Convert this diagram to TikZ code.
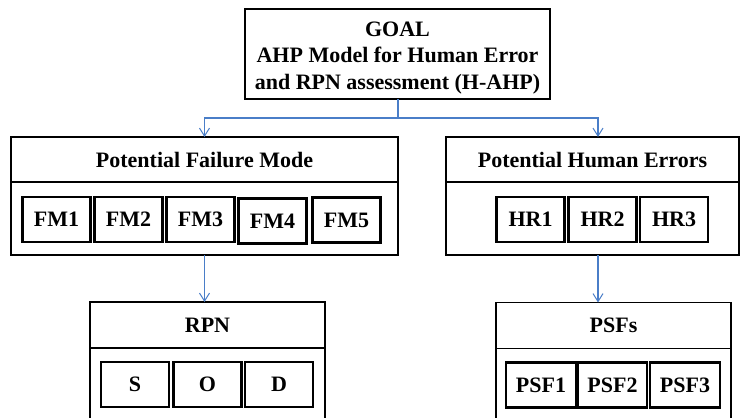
\documentclass[tikz,border=0pt]{standalone}
\usepackage{fontspec}
\setmainfont{Liberation Serif}
\usetikzlibrary{arrows.meta}
\definecolor{connblue}{RGB}{74,126,200}
\begin{document}
\begin{tikzpicture}[x=1pt,y=-1pt,
  every node/.style={font=\fontsize{22}{26.5}\selectfont\bfseries, inner sep=0pt, outer sep=0pt},
  goalbox/.style={draw=black, line width=2.4pt, minimum width=305pt, minimum height=90pt, align=center},
  hdrbox/.style={draw=black, line width=1.8pt, minimum height=45pt},
  bodybox/.style={draw=black, line width=1.8pt, anchor=north},
  itembox/.style={draw=black, line width=2.4pt, minimum width=68pt, minimum height=45pt},
  conn/.style={draw=connblue, line width=1.3pt},
  arr/.style={conn, -{Straight Barb[length=8pt,width=10pt,line width=1pt]}}
]
\useasboundingbox (0,0) rectangle (740,418);
\clip (0,0) rectangle (740,418);
\fill[white] (0,0) rectangle (740,418);

% goal
\node[goalbox] (goal) at (397.5,54) {\rule{0pt}{22pt}GOAL\\AHP Model for Human Error\\and RPN assessment (H-AHP)};

% potential failure mode
\node[hdrbox, minimum width=387pt] (pfm) at (204.5,159.5) {Potential Failure Mode};
\node[bodybox, minimum width=387pt, minimum height=73pt] (pfmb) at (pfm.south) {};
\node[itembox] (fm1) at (56.5,219.5) {FM1};
\node[itembox] (fm2) at (128.5,219.5) {FM2};
\node[itembox] (fm3) at (200.5,219.5) {FM3};
\node[itembox] (fm4) at (272.5,221) {FM4};
\node[itembox] (fm5) at (346.5,220) {FM5};

% potential human errors
\node[hdrbox, minimum width=293pt] (phe) at (592.5,159.5) {Potential Human Errors};
\node[bodybox, minimum width=293pt, minimum height=73pt] (pheb) at (phe.south) {};
\node[itembox] (hr1) at (530.5,219.5) {HR1};
\node[itembox] (hr2) at (602.5,219.5) {HR2};
\node[itembox] (hr3) at (674,219.5) {HR3};

% RPN
\node[hdrbox, minimum width=235pt, minimum height=46pt] (rpn) at (207.5,325) {RPN};
\node[bodybox, minimum width=235pt, minimum height=100pt] (rpnb) at (rpn.south) {};
\node[itembox] (s) at (135,384.5) {S};
\node[itembox] (o) at (207.5,384.5) {O};
\node[itembox] (d) at (279,384.5) {D};

% PSFs
\node[hdrbox, minimum width=235pt, minimum height=46pt] (psf) at (613.5,325.5) {PSFs};
\node[bodybox, minimum width=235pt, minimum height=100pt] (psfb) at (psf.south) {};
\node[itembox, minimum width=70pt] (psf1) at (541,385) {PSF1};
\node[itembox, minimum width=69pt] (psf2) at (612.5,385) {PSF2};
\node[itembox, minimum width=70pt] (psf3) at (685,385) {PSF3};

% connectors
\draw[conn] ([xshift=0.5pt]goal.south) -- ++(0,19) coordinate (j);
\coordinate (phein) at ([xshift=5.5pt]phe.north);
\draw[arr] (j) -| (pfm.north);
\draw[arr] (j) -| (phein);
\draw[arr] (pfmb.south) -- (pfmb.south |- rpn.north);
\coordinate (pheout) at ([xshift=5.5pt]pheb.south);
\draw[arr] (pheout) -- (pheout |- psf.north);
\end{tikzpicture}
\end{document}
